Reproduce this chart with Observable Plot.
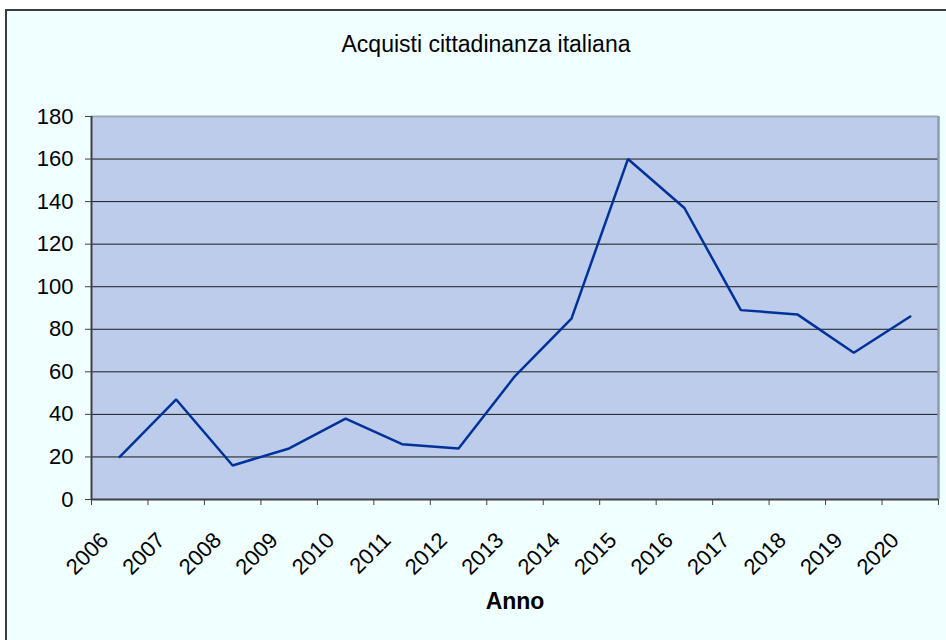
<!DOCTYPE html>
<html>
<head>
<meta charset="utf-8">
<script src="https://cdn.jsdelivr.net/npm/d3@7"></script>
<script src="https://cdn.jsdelivr.net/npm/@observablehq/plot@0.6"></script>
<style>
  html, body { margin: 0; padding: 0; background: #ffffff; width: 946px; height: 640px; overflow: hidden; }
  #frame { position: absolute; left: 5px; top: 9px; width: 960px; height: 660px; border: 2px solid #3c3c3c; background: #F0FFFF; }
  #title { position: absolute; left: 0; top: 30px; width: 972px; text-align: center; font: 23px "Liberation Sans", Arial, sans-serif; line-height: 28px; color: #000; }
  #chart { position: absolute; left: 0; top: 0; }
</style>
</head>
<body>
<div id="frame"></div>
<div id="title">Acquisti cittadinanza italiana</div>
<div id="chart"></div>
<script>
const years = [2006, 2007, 2008, 2009, 2010, 2011, 2012, 2013, 2014, 2015, 2016, 2017, 2018, 2019, 2020];
const values = [20, 47, 16, 24, 38, 26, 24, 58, 85, 160, 137, 89, 87, 69, 86];
const yTicks = [0, 20, 40, 60, 80, 100, 120, 140, 160, 180];
const xTitle = "Anno";

const xMin = d3.min(years) - 0.5;
const xMax = d3.max(years) + 0.5;
const yMax = d3.max(yTicks);
const boundaries = years.map(y => y - 0.5).concat([xMax]);
const table = years.map((y, i) => ({year: y, value: values[i]}));

const chart = Plot.plot({
  width: 946,
  height: 640,
  marginLeft: 91,
  marginRight: 8,
  marginTop: 116,
  marginBottom: 141,
  style: {fontFamily: "'Liberation Sans', Arial, sans-serif", background: "transparent", color: "#000", overflow: "visible"},
  x: {type: "linear", domain: [xMin, xMax]},
  y: {domain: [0, yMax]},
  marks: [
    Plot.frame({fill: "#BCCCEA", stroke: null}),
    Plot.gridY(yTicks.filter(v => v > 0 && v < yMax), {stroke: "#1a1a1a", strokeOpacity: 1, strokeWidth: 1}),
    Plot.ruleY([yMax], {stroke: "#9ea9bb", strokeWidth: 2}),
    Plot.ruleX([xMax], {stroke: "#8d9bb0", strokeWidth: 2.5}),
    Plot.ruleX([xMin], {stroke: "#404040", strokeWidth: 2}),
    Plot.ruleY([0], {stroke: "#404040", strokeWidth: 2}),
    Plot.axisY(yTicks, {tickSize: 6, tickPadding: 12, fontSize: 22, stroke: "#404040", label: null}),
    Plot.axisX(boundaries, {tickSize: 6, tickFormat: () => "", stroke: "#404040", label: null}),
    Plot.text(years, {x: d => d, frameAnchor: "bottom", dy: 42, dx: -10, rotate: -45, textAnchor: "end", fontSize: 22, fill: "#000", text: d => String(d)}),
    Plot.text([xTitle], {frameAnchor: "bottom", dy: 109, fontSize: 23, fontWeight: "bold", fill: "#000", text: d => d}),
    Plot.line(table, {x: "year", y: "value", stroke: "#003399", strokeWidth: 2.5, strokeLinejoin: "miter"})
  ]
});
document.getElementById("chart").appendChild(chart);
</script>
</body>
</html>
